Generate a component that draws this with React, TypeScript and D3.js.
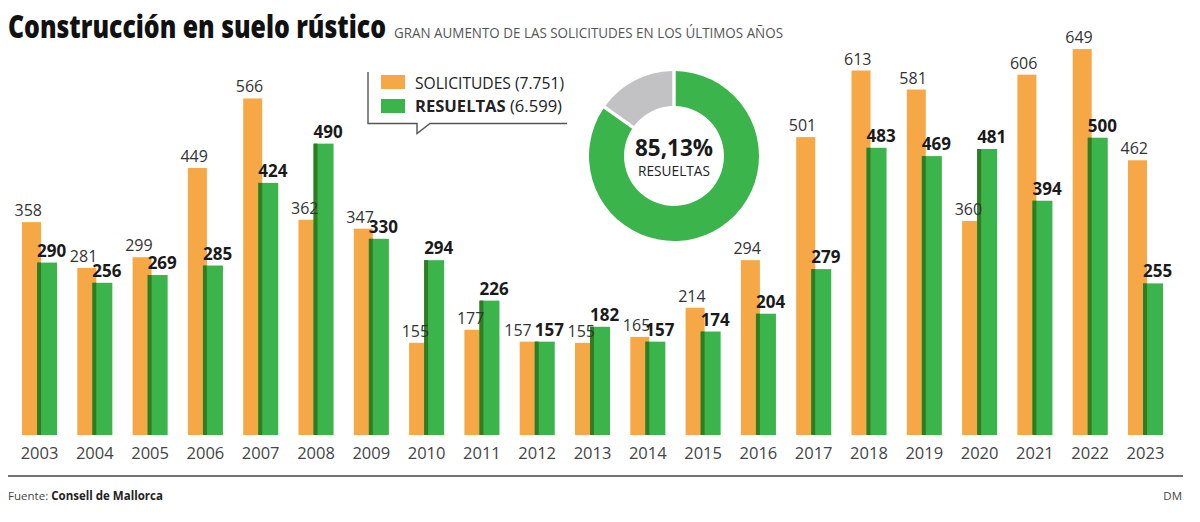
import React from "react";
import * as d3 from "d3";

const years = ["2003","2004","2005","2006","2007","2008","2009","2010","2011","2012","2013","2014","2015","2016","2017","2018","2019","2020","2021","2022","2023"];
const solicitudes = [358,281,299,449,566,362,347,155,177,157,155,165,214,294,501,613,581,360,606,649,462];
const resueltas = [290,256,269,285,424,490,330,294,226,157,182,157,174,204,279,483,469,481,394,500,255];
const donutShares = [85.13, 14.87];

const title = "Construcción en suelo rústico";
const subtitle = "GRAN AUMENTO DE LAS SOLICITUDES EN LOS ÚLTIMOS AÑOS";
const legendLabels = ["SOLICITUDES", "RESUELTAS"];
const legendTotals = ["(7.751)", "(6.599)"];

const ORANGE = "#f6a847";
const GREEN = "#3bb44b";
const DARK = "#2e7d22";
const GRAY = "#c2c2c4";
const FONT = "'Open Sans', 'DejaVu Sans', sans-serif";

export default function App() {
  const x = d3.scaleBand<string>().domain(years).range([22, 1163]).paddingInner(0.367).paddingOuter(0);
  const bw = x.bandwidth();
  const oW = bw * 0.543;
  const gOff = bw * 0.43;
  const gW = bw * 0.571;
  const y = d3.scaleLinear().domain([0, 650]).range([435, 48.5]);

  const pie = d3.pie<number>().sort(null).padAngle(0.035)(donutShares);
  const arc = d3.arc<d3.PieArcDatum<number>>().innerRadius(50).outerRadius(85);
  const cx = 674, cy = 156;

  return (
    <svg width={1200} height={522} style={{ position: "absolute", left: 0, top: 0, display: "block", background: "#fff" }}>
      <text x={8} y={38} fontFamily={FONT} fontWeight={800} fontSize={31} fill="#111" textLength={378} lengthAdjust="spacingAndGlyphs">{title}</text>
      <text x={394} y={38} fontFamily={FONT} fontSize={14} fill="#555" textLength={389} lengthAdjust="spacingAndGlyphs">{subtitle}</text>

      {years.map((yr, i) => {
        const b = x(yr)!;
        const so = solicitudes[i];
        const re = resueltas[i];
        const shift = Math.abs(so - re) < 6 ? -7 : 1;
        return (
          <g key={yr}>
            <rect x={b} y={y(so)} width={oW} height={y(0) - y(so)} fill={ORANGE} />
            <rect x={b + gOff} y={y(re)} width={gW} height={y(0) - y(re)} fill={GREEN} />
            <rect x={b + gOff} y={y(re)} width={oW - gOff} height={y(0) - y(re)} fill={DARK} />
            <text x={b + oW + shift} y={y(so) - 6} textAnchor="end" fontFamily={FONT} fontSize={16} fill="#333">{so}</text>
            <text x={b + gOff} y={y(re) - 6} textAnchor="start" fontFamily={FONT} fontWeight={700} fontSize={17} fill="#1a1a1a">{re}</text>
            <text x={b + bw / 2} y={459} textAnchor="middle" fontFamily={FONT} fontSize={16.5} fill="#444">{yr}</text>
          </g>
        );
      })}

      {/* legend callout */}
      <path d="M368,72 L368,123.5 L417,123.5 L417,133.5 L430,123.5 L567,123.5" fill="none" stroke="#555" strokeWidth={1.4} />
      {[ORANGE, GREEN].map((c, i) => (
        <g key={c}>
          <rect x={381} y={75 + i * 24} width={24} height={14} fill={c} />
          <text x={415} y={88.5 + i * 23.5} fontFamily={FONT} fontSize={16} fill="#222" textLength={i === 0 ? 149 : 147} lengthAdjust="spacingAndGlyphs">
            <tspan fontWeight={i === 1 ? 700 : 400}>{legendLabels[i]}</tspan>
            <tspan> {legendTotals[i]}</tspan>
          </text>
        </g>
      ))}

      {/* donut */}
      <g transform={`translate(${cx},${cy})`}>
        {pie.map((p, i) => (
          <path key={i} d={arc(p)!} fill={i === 0 ? GREEN : GRAY} />
        ))}
        <text x={0} y={0} textAnchor="middle" fontFamily={FONT} fontWeight={700} fontSize={23} fill="#1a1a1a" textLength={78} lengthAdjust="spacingAndGlyphs">85,13%</text>
        <text x={0} y={20} textAnchor="middle" fontFamily={FONT} fontSize={14} fill="#222" textLength={72} lengthAdjust="spacingAndGlyphs">RESUELTAS</text>
      </g>

      {/* footer */}
      <line x1={8} x2={1183} y1={476} y2={476} stroke="#444" strokeWidth={1.6} />
      <text x={8} y={500} fontFamily={FONT} fontSize={11.5} fill="#444" textLength={155} lengthAdjust="spacingAndGlyphs">
        Fuente: <tspan fontWeight={700} fill="#222">Consell de Mallorca</tspan>
      </text>
      <text x={1182} y={500} textAnchor="end" fontFamily={FONT} fontSize={11.5} fill="#444">DM</text>
    </svg>
  );
}
